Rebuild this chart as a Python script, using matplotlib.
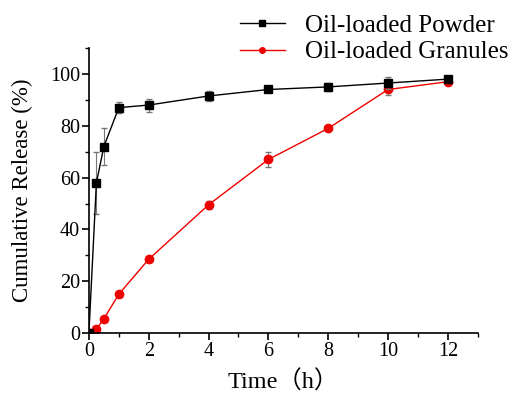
import matplotlib
matplotlib.use('Agg')
import matplotlib.pyplot as plt
from matplotlib.ticker import MultipleLocator
from matplotlib.lines import Line2D

plt.rcParams['font.family'] = ['Liberation Serif', 'Noto Sans CJK SC']

time_h = [0, 0.25, 0.5, 1, 2, 4, 6, 8, 10, 12]
powder = [0, 58, 72, 87, 88, 91.5, 94, 95, 96.5, 98]
powder_err = [0, 12, 7, 2, 2.5, 2, 1, 1.5, 2.5, 1]
granules = [0, 1.5, 5.5, 15, 28.5, 49.5, 67, 79, 94, 97]
granules_err = [0, 0.5, 0.5, 0.8, 0.8, 1.5, 3, 1, 2, 1]

fig = plt.figure(figsize=(5.11, 3.97), dpi=100)
ax = fig.add_axes([0.174, 0.161, 0.761, 0.718])

ax.errorbar(time_h, powder, yerr=powder_err, color='black', marker='s', markersize=6,
            linewidth=1, ecolor='#777777', elinewidth=0.8, capsize=2.5, zorder=3)
ax.errorbar(time_h, granules, yerr=granules_err, color='#ee0000', marker='o', markersize=6,
            linewidth=1, ecolor='#777777', elinewidth=0.8, capsize=2.5, zorder=2)

ax.set_xlim(0, 13)
ax.set_ylim(0, 110)
ax.xaxis.set_major_locator(MultipleLocator(2))
ax.xaxis.set_minor_locator(MultipleLocator(1))
ax.yaxis.set_major_locator(MultipleLocator(20))
ax.yaxis.set_minor_locator(MultipleLocator(10))
ax.spines['top'].set_visible(False)
ax.spines['right'].set_visible(False)
ax.spines['left'].set_linewidth(1.2)
ax.spines['bottom'].set_linewidth(1.2)
ax.tick_params(which='major', length=5, width=1.2, labelsize=14.5, pad=1.5)
ax.tick_params(which='minor', length=3, width=1)

ax.set_xlabel('Time（h）', fontsize=17.5, labelpad=7)
ax.set_ylabel('Cumulative Release (%)', fontsize=16.5, labelpad=12)

handles = [Line2D([], [], color='black', marker='s', markersize=4, linewidth=1),
           Line2D([], [], color='#ee0000', marker='o', markersize=4, linewidth=1)]
labels = ['Oil-loaded Powder', 'Oil-loaded Granules']
fig.legend(handles, labels, loc='upper left', bbox_to_anchor=(0.425, 1.02),
           frameon=False, fontsize=18, handlelength=1.8, labelspacing=0.15,
           handletextpad=0.8)

fig.savefig('out.png', dpi=100)
